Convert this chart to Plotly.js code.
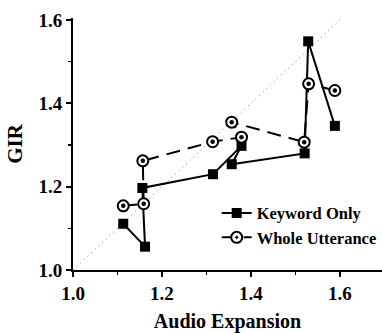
<!DOCTYPE html>
<html>
<head>
<meta charset="utf-8">
<script src="https://cdn.plot.ly/plotly-3.0.1.min.js"></script>
<style>html,body{margin:0;padding:0;background:#fff;}#chart{width:382px;height:333px;}</style>
</head>
<body>
<div id="chart"></div>
<script>
const keywordX = [1.113, 1.162, 1.156, 1.315, 1.379, 1.357, 1.521, 1.529, 1.589];
const keywordY = [1.111, 1.056, 1.197, 1.230, 1.298, 1.254, 1.280, 1.549, 1.346];
const wholeX = [1.113, 1.159, 1.157, 1.314, 1.379, 1.357, 1.520, 1.530, 1.589];
const wholeY = [1.154, 1.159, 1.262, 1.308, 1.319, 1.355, 1.307, 1.447, 1.431];
const diagonal = [1.0, 1.62];
const seriesNames = ["Keyword Only", "Whole Utterance"];
const tickVals = [1.0, 1.2, 1.4, 1.6];
const tickText = ["1.0", "1.2", "1.4", "1.6"];

const font = "'Liberation Serif', 'Times New Roman', serif";

const traces = [
  {x: diagonal, y: diagonal, mode: "lines", showlegend: false, hoverinfo: "skip",
   line: {color: "#777", width: 1, dash: "1px,4px"}},
  {x: keywordX, y: keywordY, name: "<b>" + seriesNames[0] + "</b>", mode: "lines+markers",
   line: {color: "#000", width: 2},
   marker: {symbol: "square", size: 10, color: "#000"}},
  {x: wholeX, y: wholeY, name: "<b>" + seriesNames[1] + "</b>", mode: "lines+markers",
   line: {color: "#000", width: 2, dash: "14px,8px"},
   marker: {symbol: "circle-dot", size: 11, color: "#fff", line: {width: 2, color: "#000"}}},
  {x: wholeX, y: wholeY, mode: "markers", showlegend: false, hoverinfo: "skip",
   marker: {symbol: "circle", size: 4.5, color: "#000", line: {width: 0}}}
];

const axisCommon = {
  showgrid: false, zeroline: false, showline: true, linecolor: "#000", linewidth: 2,
  ticks: "outside", ticklen: 5, tickwidth: 2, tickcolor: "#000",
  tickvals: tickVals, ticktext: tickText.map(t => "<b>" + t + "</b>"),
  tickfont: {family: font, size: 19, color: "#000"},
  minor: {ticks: "outside", ticklen: 3, tickwidth: 1.5, tickcolor: "#000", dtick: 0.1},
};

const layout = {
  width: 382, height: 333,
  margin: {l: 73, r: 0, t: 18, b: 63},
  paper_bgcolor: "#fff", plot_bgcolor: "#fff",
  font: {family: font, color: "#000"},
  xaxis: Object.assign({}, axisCommon, {
    range: [1.0, 1.695],
    title: {text: "<b>Audio Expansion</b>", font: {family: font, size: 20, color: "#000"}, standoff: 12}
  }),
  yaxis: Object.assign({}, axisCommon, {
    range: [1.0, 1.605],
    title: {text: "<b>GIR</b>", font: {family: font, size: 21, color: "#000"}, standoff: 10}
  }),
  legend: {x: 0.465, y: 0.295, xanchor: "left", yanchor: "top", bgcolor: "rgba(0,0,0,0)",
    font: {family: font, size: 16.5, color: "#000"}, tracegroupgap: 0, itemwidth: 30}
};

Plotly.newPlot("chart", traces, layout, {staticPlot: true, displayModeBar: false});
</script>
</body>
</html>
